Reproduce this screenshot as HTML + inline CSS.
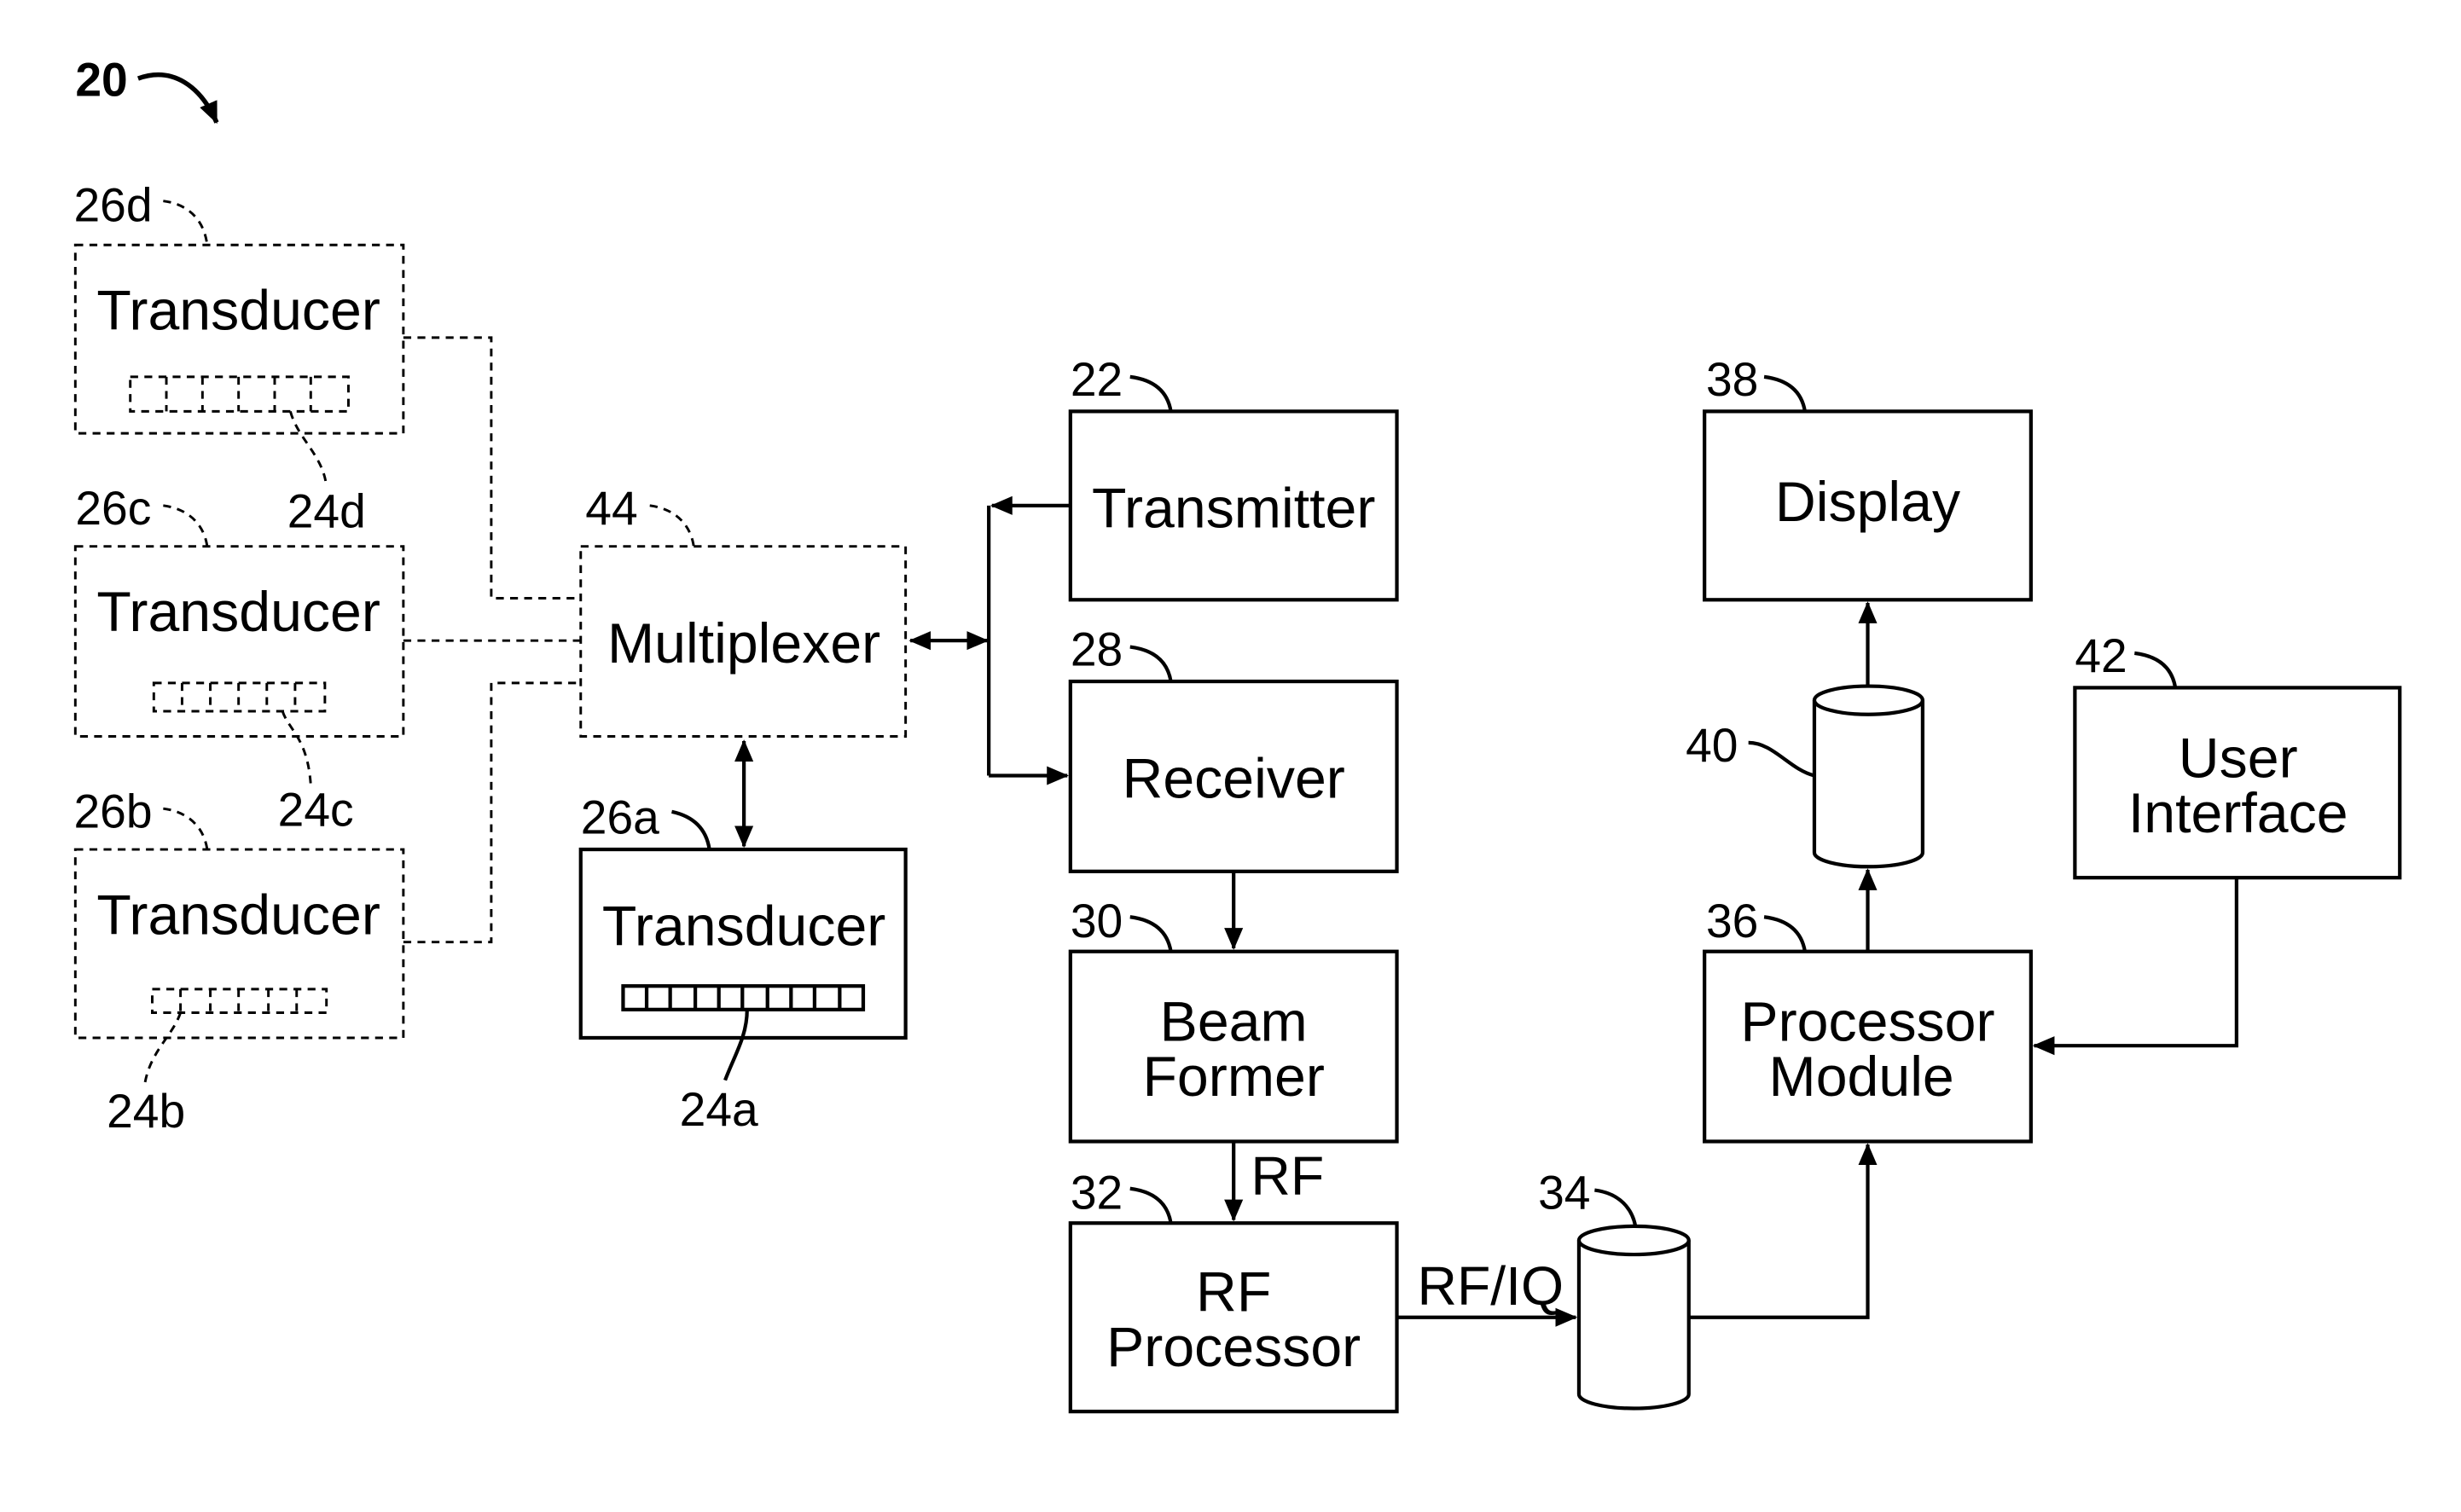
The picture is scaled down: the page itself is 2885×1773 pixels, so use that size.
<!DOCTYPE html>
<html><head><meta charset="utf-8"><style>
html,body{margin:0;padding:0;background:#fff;}
svg{display:block;}
text{font-family:"Liberation Sans",Arial,sans-serif;fill:#000;}
.b{font-size:36px;}
.l{font-size:30px;}
</style></head><body>
<svg width="2885" height="1773" viewBox="0 0 1568 963" preserveAspectRatio="none" xmlns="http://www.w3.org/2000/svg">
<defs>
<marker id="as" markerWidth="14" markerHeight="14" refX="13" refY="7" orient="auto-start-reverse" markerUnits="userSpaceOnUse" viewBox="0 0 14 14">
<path d="M0,1 L14,7 L0,13 z" fill="#000"/></marker>
</defs>
<g fill="none" stroke="#000" stroke-width="2.3">
<path d="M88,50 C110,42 128,55 138,78" stroke-width="3" marker-end="url(#as)"/>
<g stroke-dasharray="5,4" stroke-width="1.6">
<rect x="48" y="156" width="209" height="120"/>
<rect x="48" y="348" width="209" height="121"/>
<rect x="48" y="541" width="209" height="120"/>
<rect x="370" y="348" width="207" height="121"/>
<rect x="83" y="240" width="139" height="22"/>
<path d="M106,240v22M129,240v22M152,240v22M175,240v22M198,240v22"/>
<rect x="98" y="435" width="109" height="18"/>
<path d="M116,435v18M134,435v18M152,435v18M170,435v18M188,435v18"/>
<rect x="97" y="630" width="111" height="15"/>
<path d="M115,630v15M134,630v15M152,630v15M171,630v15M189,630v15"/>
<path d="M257,215H313V381H370M257,408H370M257,600H313V435H370"/>
<path d="M104,128 C120,130 130,140 132,156"/>
<path d="M104,322 C120,324 130,334 132,348"/>
<path d="M104,515 C120,517 130,527 132,541"/>
<path d="M414,322 C430,324 440,334 442,348"/>
<path d="M185,262 C190,280 206,290 208,310"/>
<path d="M180,453 C184,465 196,470 198,500"/>
<path d="M115,645 C110,660 95,670 92,692"/>
</g>
<path d="M428,517 C442,520 450,528 452,541"/>
<path d="M476,643 C476,660 468,672 462,688"/>
<path d="M720,240 C736,242 744,250 746,262"/>
<path d="M720,412 C736,414 744,422 746,434"/>
<path d="M720,584 C736,586 744,594 746,606"/>
<path d="M720,757 C736,759 744,767 746,779"/>
<path d="M1124,240 C1140,242 1148,250 1150,262"/>
<path d="M1124,584 C1140,586 1148,594 1150,606"/>
<path d="M1360,416 C1376,418 1384,426 1386,438"/>
<path d="M1016,758 C1032,760 1040,770 1042,781"/>
<path d="M1114,473 C1130,473 1140,490 1156,494"/>
<rect x="370" y="541" width="207" height="120"/>
<rect x="397" y="628" width="153" height="15"/>
<path d="M412,628v15M427,628v15M443,628v15M458,628v15M473,628v15M489,628v15M504,628v15M519,628v15M535,628v15"/>
<rect x="682" y="262" width="208" height="120"/>
<rect x="682" y="434" width="208" height="121"/>
<rect x="682" y="606" width="208" height="121"/>
<rect x="682" y="779" width="208" height="120"/>
<rect x="1086" y="262" width="208" height="120"/>
<rect x="1086" y="606" width="208" height="121"/>
<rect x="1322" y="438" width="207" height="121"/>
<path d="M1006,790 V888 A35,9 0 0 0 1076,888 V790"/>
<ellipse cx="1041" cy="790" rx="35" ry="9"/>
<path d="M1156,446 V543 A34.5,9 0 0 0 1225,543 V446"/>
<ellipse cx="1190.5" cy="446" rx="34.5" ry="9"/>
<path d="M474,472V539" marker-start="url(#as)" marker-end="url(#as)"/>
<path d="M580,408H629" marker-start="url(#as)" marker-end="url(#as)"/>
<path d="M630,322V494"/>
<path d="M682,322H632" marker-end="url(#as)"/>
<path d="M630,494H680" marker-end="url(#as)"/>
<path d="M786,555V604" marker-end="url(#as)"/>
<path d="M786,727V777" marker-end="url(#as)"/>
<path d="M890,839H1004" marker-end="url(#as)"/>
<path d="M1076,839H1190V729" marker-end="url(#as)"/>
<path d="M1190,606V554" marker-end="url(#as)"/>
<path d="M1190,437V384" marker-end="url(#as)"/>
<path d="M1425,559V666H1296" marker-end="url(#as)"/>
</g>
<text x="48" y="61" style="font-size:30px;font-weight:bold">20</text>
<g class="b" text-anchor="middle">
<text x="152" y="210">Transducer</text>
<text x="152" y="402">Transducer</text>
<text x="152" y="595">Transducer</text>
<text x="474" y="422">Multiplexer</text>
<text x="474" y="602">Transducer</text>
<text x="786" y="336">Transmitter</text>
<text x="786" y="508">Receiver</text>
<text x="786" y="663">Beam</text>
<text x="786" y="698">Former</text>
<text x="786" y="835">RF</text>
<text x="786" y="870">Processor</text>
<text x="1190" y="332">Display</text>
<text x="1190" y="663">Processor</text>
<text x="1186" y="698">Module</text>
<text x="1426" y="495">User</text>
<text x="1426" y="530">Interface</text>
</g>
<g class="l">
<text x="47" y="141">26d</text>
<text x="48" y="334">26c</text>
<text x="47" y="527">26b</text>
<text x="183" y="336">24d</text>
<text x="177" y="526">24c</text>
<text x="68" y="718">24b</text>
<text x="373" y="334">44</text>
<text x="370" y="531">26a</text>
<text x="433" y="717">24a</text>
<text x="682" y="252">22</text>
<text x="682" y="424">28</text>
<text x="682" y="597">30</text>
<text x="682" y="770">32</text>
<text x="1087" y="252">38</text>
<text x="1087" y="597">36</text>
<text x="1322" y="428">42</text>
<text x="1074" y="485">40</text>
<text x="980" y="770">34</text>
<text x="797" y="761" style="font-size:35px">RF</text>
<text x="903" y="831" style="font-size:35px">RF/IQ</text>
</g>
</svg>
</body></html>
